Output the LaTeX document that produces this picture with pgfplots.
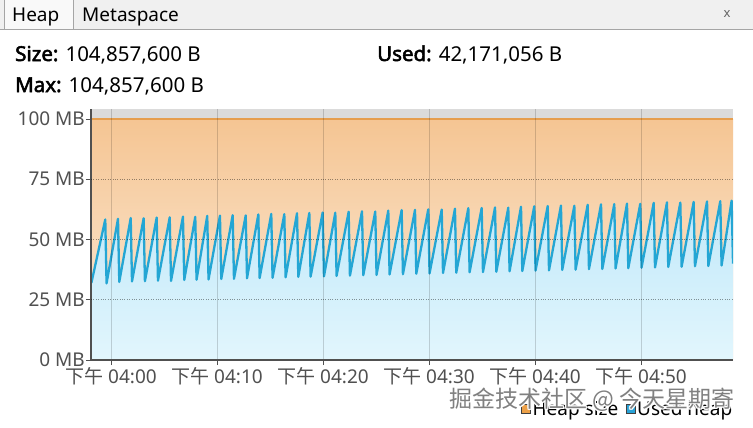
\documentclass[border=0pt]{standalone}
\usepackage{pgfplots}
\pgfplotsset{compat=1.18}
\usepackage{pgfplotstable}
\usepackage{fontspec}
\setmainfont{Noto Sans}[AutoFakeBold=2.5]
\newfontfamily\cjk{Noto Sans CJK SC}
\definecolor{axisgray}{RGB}{80,80,80}
\definecolor{plotbg}{RGB}{219,219,219}
\definecolor{orangeTop}{RGB}{245,197,147}
\definecolor{orangeBot}{RGB}{252,236,218}
\definecolor{orangeLine}{RGB}{230,158,78}
\definecolor{blueTop}{RGB}{192,232,249}
\definecolor{blueBot}{RGB}{226,246,253}
\definecolor{blueLine}{RGB}{36,166,212}
\definecolor{legOrange}{RGB}{236,160,72}
\definecolor{legBlue}{RGB}{40,162,215}
\definecolor{tabbg}{RGB}{240,240,240}
\definecolor{tabline}{RGB}{165,165,165}

\pgfplotstableread{
t v
-1.85 32.0
-0.54 58.3
-0.42 31.8
0.66 58.6
0.78 32.4
1.86 58.9
1.98 32.6
3.08 58.8
3.20 32.7
4.31 59.1
4.43 32.9
5.54 59.2
5.66 32.8
6.79 59.5
6.91 33.2
7.95 59.4
8.07 33.3
9.08 59.8
9.20 33.4
10.28 59.9
10.40 33.6
11.48 60.1
11.60 33.7
12.71 60.0
12.83 33.9
13.90 60.4
14.02 34.0
15.12 60.6
15.24 34.1
16.35 60.5
16.47 34.3
17.55 60.9
17.67 34.5
18.71 61.0
18.83 34.6
19.97 61.2
20.09 34.7
21.16 61.1
21.28 34.9
22.42 61.5
22.54 35.0
23.68 61.7
23.80 35.2
24.93 61.6
25.05 35.3
26.16 62.0
26.28 35.5
27.42 62.2
27.54 35.6
28.68 62.3
28.80 35.8
29.93 62.5
30.05 35.9
31.20 62.4
31.32 36.1
32.45 62.8
32.57 36.2
33.71 63.0
33.83 36.4
34.97 63.1
35.09 36.5
36.23 63.3
36.35 36.6
37.48 63.2
37.60 36.8
38.68 63.6
38.80 36.9
39.93 63.8
40.05 37.1
41.20 63.9
41.32 37.2
42.45 64.1
42.57 37.4
43.71 64.0
43.83 37.5
44.97 64.4
45.09 37.7
46.23 64.6
46.35 37.8
47.48 64.7
47.60 38.0
48.68 64.9
48.80 38.1
49.93 64.8
50.05 38.3
51.20 65.2
51.32 38.4
52.45 65.4
52.57 38.6
53.71 65.3
53.83 38.7
54.97 65.6
55.09 38.9
56.23 65.8
56.35 39.0
57.48 65.9
57.60 39.2
58.55 66.1
58.68 40.0
}\usedheap

\pgfplotstableread{
t v
-1.887 100
58.68 100
}\heapsize

\begin{document}
\begin{tikzpicture}
\fill[white] (0,0) rectangle (753bp,-428bp);
\useasboundingbox (0,0) rectangle (753bp,-428bp);
% tab strip
\fill[tabbg] (0,0) rectangle (753bp,-29bp);
\draw[tabline, line width=1bp] (0,-29bp) -- (753bp,-29bp);
\filldraw[fill=white!60!tabbg, draw=tabline, line width=1bp] (4bp,1bp) rectangle (73bp,-29bp);
\node[anchor=base west, inner sep=0pt, font=\fontsize{19bp}{23bp}\selectfont] at (12bp,-21bp) {Heap};
\node[anchor=base west, inner sep=0pt, font=\fontsize{19bp}{23bp}\selectfont] at (82bp,-21bp) {Metaspace};
\node[inner sep=0pt, text=black!60, font=\fontsize{13bp}{15bp}\selectfont] at (727bp,-14bp) {x};
% header
\node[anchor=base west, inner sep=0pt, font=\fontsize{20.5bp}{24bp}\selectfont] at (15bp,-61bp) {\textbf{Size:} 104,857,600 B};
\node[anchor=base west, inner sep=0pt, font=\fontsize{20.5bp}{24bp}\selectfont] at (377bp,-61bp) {\textbf{Used:} 42,171,056 B};
\node[anchor=base west, inner sep=0pt, font=\fontsize{20.5bp}{24bp}\selectfont] at (15bp,-92bp) {\textbf{Max:} 104,857,600 B};

\begin{axis}[
  at={(91bp,-360bp)}, anchor=south west,
  scale only axis, width=642bp, height=251bp,
  xmin=-1.887, xmax=58.68, ymin=0, ymax=104.15,
  axis background/.style={fill=plotbg},
  axis on top,
  axis x line*=bottom, axis y line*=left,
  axis line style={-, draw=axisgray, line width=1.2bp},
  tick style={draw=axisgray, line width=1bp},
  tick align=outside, major tick length=5bp,
  xtick={0,10,20,30,40,50},
  xticklabels={{\cjk 下午} 04:00,{\cjk 下午} 04:10,{\cjk 下午} 04:20,{\cjk 下午} 04:30,{\cjk 下午} 04:40,{\cjk 下午} 04:50},
  ytick={0,25,50,75,100},
  yticklabels={0 MB,25 MB,50 MB,75 MB,100 MB},
  /pgf/number format/assume math mode=true,
  ticklabel style={text=axisgray, font=\fontsize{19bp}{22bp}\selectfont},
  yticklabel style={inner sep=1bp},
  xticklabel style={inner sep=1bp, yshift=-1bp},
  xmajorgrids,
  x grid style={black, opacity=0.16, line width=0.8bp},
  extra y ticks={25,50,75},
  extra y tick labels={},
  extra y tick style={major tick length=0pt, ymajorgrids=true,
    major grid style={black, opacity=0.4, dotted, line width=0.8bp}},
  legend image code/.code={\draw[#1] (0bp,-4.5bp) rectangle (9bp,4.5bp);},
  legend style={at={(1.0062,-0.195)}, anchor=east, draw=none, fill=none,
    legend columns=2, font=\fontsize{19bp}{22bp}\selectfont,
    nodes={inner sep=1.5bp}, /tikz/every even column/.append style={column sep=6bp}},
]
\addplot[draw=none, top color=orangeTop, bottom color=orangeBot, forget plot] table[x=t,y=v] {\heapsize} \closedcycle;
\addplot[orangeLine, line width=1.6bp, forget plot] table[x=t,y=v] {\heapsize};
\addplot[draw=none, top color=blueTop, bottom color=blueBot, forget plot] table[x=t,y=v] {\usedheap} \closedcycle;
\addplot[blueLine, line width=2.3bp, line join=round, forget plot] table[x=t,y=v] {\usedheap};
\addlegendimage{fill=legOrange, draw=black!75, line width=0.8bp}
\addlegendentry{Heap size}
\addlegendimage{fill=legBlue, draw=black!75, line width=0.8bp}
\addlegendentry{Used heap}
\end{axis}
% watermark
\foreach \dx/\dy in {1/0,-1/0,0/1,0/-1,1/1,-1/-1,1/-1,-1/1}{
  \node[inner sep=0pt, text=white, font=\cjk\fontsize{23bp}{26bp}\selectfont] at ([xshift=\dx bp, yshift=\dy bp]592bp,-400bp) {掘金技术社区 @ 今天星期寄};
}
\node[inner sep=0pt, text=black!50, font=\cjk\fontsize{23bp}{26bp}\selectfont] at (592bp,-400bp) {掘金技术社区 @ 今天星期寄};
\end{tikzpicture}
\end{document}
